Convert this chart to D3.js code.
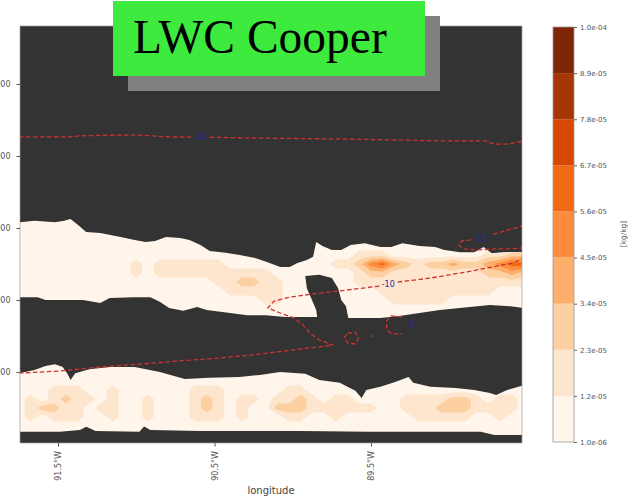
<!DOCTYPE html>
<html>
<head>
<meta charset="utf-8">
<title>LWC Cooper</title>
<script src="https://cdn.jsdelivr.net/npm/d3@7"></script>
<style>
  body { margin: 0; background: #fff; }
  svg { display: block; font-family: "DejaVu Sans", sans-serif; }
</style>
</head>
<body>
<div class="plot_container"></div>
<script>
// ---- axis ticks ----
var xTicks = [-91.5, -90.5, -89.5];
var xTickLabels = ["91.5°W", "90.5°W", "89.5°W"];
var yTicks = [1000, 2000, 3000, 4000, 5000];

// ---- LWC contour levels (kg/kg) ----
var lwcLevels = [1.0e-6, 1.2e-5, 2.3e-5, 3.4e-5, 4.5e-5, 5.6e-5, 6.7e-5, 7.8e-5, 8.9e-5, 1.0e-4];
var cbarLabels = ["1.0e-06", "1.2e-05", "2.3e-05", "3.4e-05", "4.5e-05", "5.6e-05", "6.7e-05", "7.8e-05", "8.9e-05", "1.0e-04"];

// ---- cloud layer outlines [lon, height m] (LWC > 1e-6) ----
var upperTop = [[-91.75,3080],[-91.65,3100],[-91.52,3080],[-91.46,3100],[-91.42,3125],[-91.37,3040],[-91.32,2945],[-91.23,2930],[-91.10,2875],[-91.01,2835],[-90.94,2805],[-90.88,2820],[-90.81,2875],[-90.72,2860],[-90.66,2835],[-90.59,2765],[-90.53,2680],[-90.43,2655],[-90.34,2625],[-90.24,2585],[-90.17,2530],[-90.08,2460],[-90.02,2460],[-89.97,2515],[-89.91,2555],[-89.87,2600],[-89.85,2805],[-89.81,2750],[-89.75,2695],[-89.69,2695],[-89.63,2765],[-89.54,2790],[-89.44,2735],[-89.37,2735],[-89.30,2790],[-89.19,2750],[-89.09,2735],[-89.03,2695],[-88.93,2665],[-88.84,2665],[-88.78,2735],[-88.73,2650],[-88.64,2665],[-88.52,2665]];
var upperBottom = [[-91.75,2040],[-91.63,2040],[-91.58,2000],[-91.44,2000],[-91.34,2000],[-91.23,1960],[-91.17,2030],[-91.02,2040],[-90.91,2040],[-90.85,1975],[-90.79,1890],[-90.70,1850],[-90.61,1905],[-90.55,1860],[-90.45,1835],[-90.29,1790],[-90.17,1790],[-90.05,1765],[-89.94,1765],[-89.84,1765],[-89.67,1750],[-89.59,1750],[-89.44,1750],[-89.32,1780],[-89.19,1820],[-89.06,1860],[-88.87,1905],[-88.74,1930],[-88.61,1915],[-88.52,1890]];
var cloudGap = [[-89.92,2335],[-89.83,2350],[-89.75,2305],[-89.71,2165],[-89.69,2000],[-89.66,1915],[-89.64,1695],[-89.84,1695],[-89.85,1860],[-89.88,2015],[-89.91,2165]];
var lowerTop = [[-91.75,985],[-91.65,1030],[-91.58,1085],[-91.52,1110],[-91.47,1070],[-91.44,975],[-91.42,890],[-91.39,985],[-91.30,1040],[-91.17,1070],[-91.01,1070],[-90.85,1000],[-90.69,905],[-90.53,920],[-90.34,930],[-90.21,960],[-90.08,1000],[-89.92,975],[-89.83,890],[-89.70,850],[-89.60,740],[-89.56,640],[-89.53,750],[-89.44,795],[-89.35,860],[-89.26,930],[-89.23,850],[-89.12,795],[-88.96,780],[-88.84,750],[-88.74,710],[-88.70,680],[-88.63,750],[-88.52,820]];
var lowerBottom = [[-91.75,170],[-91.49,170],[-91.36,195],[-91.32,240],[-91.26,180],[-90.98,170],[-90.95,245],[-90.91,195],[-90.59,180],[-89.95,180],[-89.51,170],[-88.80,170],[-88.71,125],[-88.52,125]];

// ---- LWC level index inside the clouds, rows from 3125 m down to 125 m every 125 m,
//      columns from 91.75W every 0.075 deg ----
var gridLon0 = -91.75, gridDLon = 0.075, gridTopH = 3125, gridDH = 125;
var lwcRows = [
  "00000000000000000000000000000000000000000000",
  "00000000000000000000000000000000000000000000",
  "00000000000000000000000000000000000000000000",
  "00000000000000000000000000000000000000000000",
  "00000000000000000000000000000111000000001122",
  "00000000001011111100000000011245321223223455",
  "00000000001011111111110000000122111111112232",
  "00000000000000000112211000000111111111111111",
  "00000000000000000011111000000001111111111000",
  "00000000000000000000011000000000111110000000",
  "00000000000000000000000000000000000000000000",
  "00000000000000000000000000000000000000000000",
  "00000000000000000000000000000000000000000000",
  "00000000000000000000000000000000000000000000",
  "00000000000000000000000000000000000000000000",
  "00000000000000000000000000000000000000000000",
  "00000000000000000000000000000000000000000000",
  "00000000000000000000000000000000000000000000",
  "00000000000000000000000000000000000000000000",
  "00011100100000011100000110000000000000000000",
  "01012110100100012101101121011000011112210110",
  "01221101100100012101002221111110011122211110",
  "01011100100100011101000110010000001111100100",
  "00000000000000000000000000000000000000000000",
  "00000000000000000000000000000000000000000000"
];

// ---- temperature contours (dashed) [lon, height m] ----
var isoMinus20a = [[-91.75,4265],[-91.42,4265],[-91.36,4280],[-91.17,4290],[-90.98,4290],[-90.79,4265],[-90.64,4262]];
var isoMinus20b = [[-90.53,4260],[-90.27,4250],[-89.63,4235],[-89.06,4210],[-88.77,4210],[-88.71,4165],[-88.63,4165],[-88.52,4210]];
var isoMinus10a = [[-91.75,985],[-91.49,1015],[-91.23,1070],[-90.98,1110],[-90.72,1155],[-90.47,1195],[-90.21,1250],[-89.95,1320],[-89.74,1375],[-89.83,1445],[-89.89,1540],[-89.94,1665],[-89.99,1750],[-90.08,1820],[-90.16,1890],[-90.12,1985],[-90.02,2040],[-89.87,2085],[-89.65,2140],[-89.44,2195]];
var isoMinus10b = [[-89.33,2250],[-89.12,2305],[-88.89,2390],[-88.76,2445],[-88.59,2515],[-88.52,2590]];
var isoMinus10c = [[-88.52,3035],[-88.62,2975],[-88.73,2905]];
var isoMinus10d = [[-88.86,2835],[-88.92,2820],[-88.94,2765],[-88.91,2710],[-88.82,2695],[-88.71,2710],[-88.61,2710],[-88.52,2725]];
var isoLoopSmall = [[-89.65,1540],[-89.60,1555],[-89.58,1475],[-89.60,1390],[-89.65,1405],[-89.67,1475],[-89.65,1540]];
var isoLoopDot = [[-89.496,1500],[-89.484,1500]];
var isoMinus5 = [[-89.30,1765],[-89.37,1780],[-89.40,1710],[-89.40,1600],[-89.37,1530],[-89.30,1530]];
var isoLabels = [[-90.59,4262,"-20"],[-89.39,2225,"-10"],[-88.80,2860,"-10"],[-89.245,1650,"-5"]];

// ---- chart ----
var width = 629, height = 498;
var plotLeft = 20, plotRight = 522, plotTop = 26, plotBottom = 443;

var svg = d3.select(".plot_container").append("svg")
    .attr("width", width)
    .attr("height", height);

var x = d3.scaleLinear().domain([-91.743, -88.535]).range([plotLeft, plotRight]);
var y = d3.scaleLinear().domain([15, 5805]).range([plotBottom, plotTop]);
var fills = d3.schemeOranges[9];

var defs = svg.append("defs");
defs.append("clipPath").attr("id", "plotClip")
    .append("rect")
    .attr("x", plotLeft).attr("y", plotTop)
    .attr("width", plotRight - plotLeft).attr("height", plotBottom - plotTop);

var line = d3.line().x(function(d){ return x(d[0]); }).y(function(d){ return y(d[1]); });
function outline(top, bottom){
    return line(top.concat(bottom.slice().reverse())) + "Z";
}

var cloudClip = defs.append("clipPath").attr("id", "cloudClip");
cloudClip.append("path").attr("d", outline(upperTop, upperBottom));
cloudClip.append("path").attr("d", outline(lowerTop, lowerBottom));

// background
svg.append("rect")
    .attr("x", plotLeft).attr("y", plotTop)
    .attr("width", plotRight - plotLeft).attr("height", plotBottom - plotTop)
    .style("fill", "#333333");

var plot = svg.append("g").attr("clip-path", "url(#plotClip)");

// lowest LWC band = cloud outlines
plot.selectAll(".cloud")
    .data([[upperTop, upperBottom], [lowerTop, lowerBottom]])
    .enter()
    .append("path")
    .attr("class", "cloud")
    .attr("d", function(d){ return outline(d[0], d[1]); })
    .style("fill", fills[0]);

// higher LWC bands from the grid
var nx = lwcRows[0].length, ny = lwcRows.length;
var values = [];
lwcRows.forEach(function(row){
    row.padEnd(nx, "0").slice(0, nx).split("").forEach(function(c){
        var k = +c;
        values.push((lwcLevels[k] + lwcLevels[k + 1]) / 2);
    });
});
var contours = d3.contours().size([nx, ny]).thresholds(lwcLevels.slice(1, 9))(values);
var gridProj = d3.geoTransform({
    point: function(u, v){
        var lon = gridLon0 + (u - 0.5) * gridDLon;
        var h = gridTopH - (v - 0.5) * gridDH;
        this.stream.point(x(lon), y(h));
    }
});
var gridPath = d3.geoPath(gridProj);

plot.append("g").attr("clip-path", "url(#cloudClip)")
    .selectAll(".band")
    .data(contours)
    .enter()
    .append("path")
    .attr("class", "band")
    .attr("d", gridPath)
    .style("fill", function(d, i){ return fills[i + 1]; });

// clear gap under the upper layer
plot.append("path")
    .attr("d", line(cloudGap) + "Z")
    .style("fill", "#333333");

// temperature contours
plot.selectAll(".iso")
    .data([isoMinus20a, isoMinus20b, isoMinus10a, isoMinus10b, isoMinus10c, isoMinus10d, isoLoopSmall, isoLoopDot, isoMinus5])
    .enter()
    .append("path")
    .attr("class", "iso")
    .attr("d", line)
    .style("fill", "none")
    .style("stroke", "#cc332e")
    .style("stroke-width", 1.3)
    .style("stroke-dasharray", "4.5,2.5");

plot.selectAll(".isolabel")
    .data(isoLabels)
    .enter()
    .append("text")
    .attr("class", "isolabel")
    .attr("x", function(d){ return x(d[0]); })
    .attr("y", function(d){ return y(d[1]); })
    .attr("text-anchor", "middle")
    .attr("dy", "0.35em")
    .style("font-size", "8px")
    .style("fill", "#2a2aa6")
    .text(function(d){ return d[2]; });

// frame
svg.append("rect")
    .attr("x", plotLeft).attr("y", plotTop)
    .attr("width", plotRight - plotLeft).attr("height", plotBottom - plotTop)
    .style("fill", "none")
    .style("stroke", "#a0a0a0")
    .style("stroke-width", 0.7);

// axes
var yAxis = svg.append("g")
    .attr("transform", "translate(" + plotLeft + ",0)")
    .call(d3.axisLeft(y).tickValues(yTicks).tickSize(3.5).tickPadding(6).tickFormat(d3.format("d")));
var xAxis = svg.append("g")
    .attr("transform", "translate(0," + plotBottom + ")")
    .call(d3.axisBottom(x).tickValues(xTicks).tickSize(3.5).tickFormat(function(d, i){ return xTickLabels[i]; }));
xAxis.selectAll("text")
    .attr("transform", "rotate(-90)")
    .attr("text-anchor", "end")
    .attr("x", -8)
    .attr("y", 0)
    .attr("dy", "0.35em");
[yAxis, xAxis].forEach(function(a){
    a.select(".domain").remove();
    a.selectAll("line").style("stroke", "#555");
    a.selectAll("text").style("fill", "#555").style("font-size", "8px").style("font-family", "DejaVu Sans");
});

svg.append("text")
    .attr("x", 271).attr("y", 494)
    .attr("text-anchor", "middle")
    .style("font-size", "10px")
    .style("fill", "#444")
    .text("longitude");

// colorbar
var cbLeft = 553, cbWidth = 21;
var cb = d3.scaleLinear().domain([lwcLevels[0], lwcLevels[9]]).range([442, 27]);
svg.selectAll(".cbseg")
    .data(d3.range(9))
    .enter()
    .append("rect")
    .attr("class", "cbseg")
    .attr("x", cbLeft)
    .attr("width", cbWidth)
    .attr("y", function(k){ return cb(lwcLevels[k + 1]); })
    .attr("height", function(k){ return cb(lwcLevels[k]) - cb(lwcLevels[k + 1]); })
    .style("fill", function(k){ return fills[k]; });
svg.append("rect")
    .attr("x", cbLeft).attr("y", cb.range()[1])
    .attr("width", cbWidth).attr("height", cb.range()[0] - cb.range()[1])
    .style("fill", "none").style("stroke", "#999").style("stroke-width", 0.8);
var cAxis = svg.append("g")
    .attr("transform", "translate(" + (cbLeft + cbWidth) + ",0)")
    .call(d3.axisRight(cb).tickValues(lwcLevels).tickSize(3).tickPadding(3).tickFormat(function(d, i){ return cbarLabels[i]; }));
cAxis.select(".domain").remove();
cAxis.selectAll("line").style("stroke", "#666");
cAxis.selectAll("text").style("fill", "#555").style("font-size", "7px").style("font-family", "DejaVu Sans");

svg.append("text")
    .attr("transform", "translate(626,234) rotate(-90)")
    .attr("text-anchor", "middle")
    .style("font-size", "7.5px")
    .style("fill", "#555")
    .text("[kg/kg]");

// title badge
svg.append("rect").attr("x", 128).attr("y", 16).attr("width", 312).attr("height", 75).style("fill", "#808080");
svg.append("rect").attr("x", 113).attr("y", 1).attr("width", 312).attr("height", 75).style("fill", "#3dea3d");
svg.append("text")
    .attr("x", 133).attr("y", 53)
    .style("font-family", "'Liberation Serif', serif")
    .style("font-size", "47.5px")
    .style("fill", "#000")
    .text("LWC Cooper");
</script>
</body>
</html>
